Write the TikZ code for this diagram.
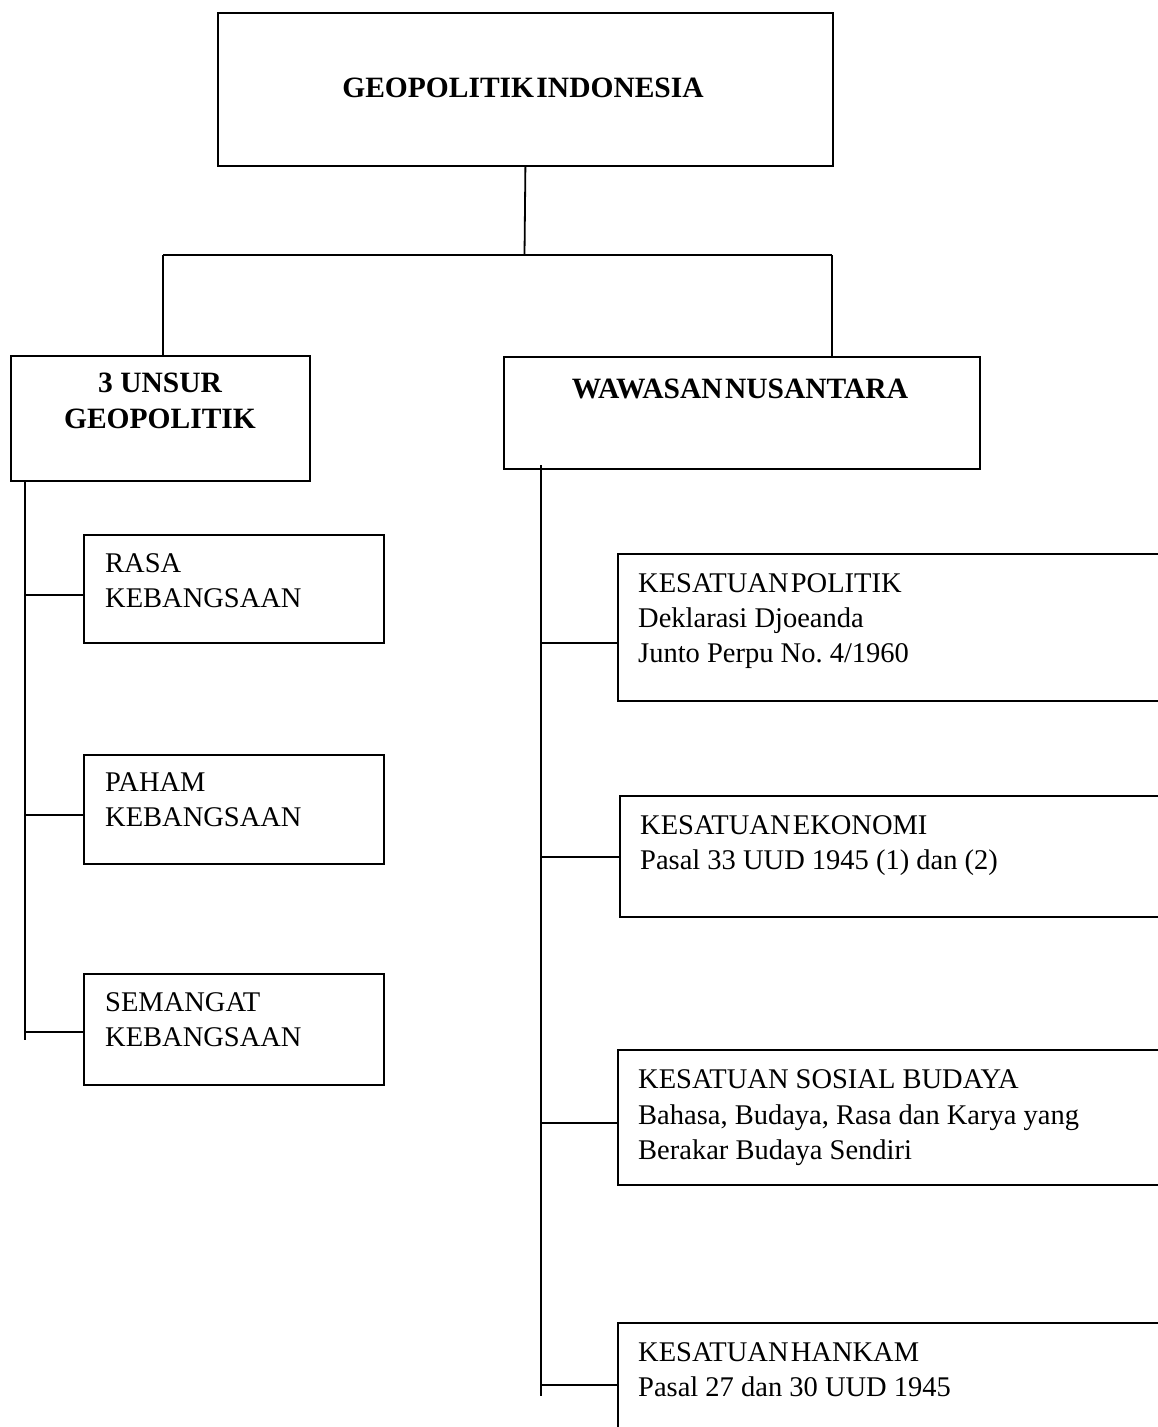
\documentclass[tikz,border=0pt]{standalone}
\usepackage{fontspec}
\setmainfont{Liberation Serif}
\frenchspacing
\newcommand\tightsp{\hspace{0.08em}}
\begin{document}
\begin{tikzpicture}[x=1pt,y=-1pt,
  box/.style={draw=black,line width=1.8pt,rectangle,inner sep=0pt,anchor=north west},
  wire/.style={draw=black,line width=1.8pt},
  txt/.style={inner sep=0pt,anchor=base west,font=\fontsize{28.5}{35}\selectfont},
  btxt/.style={inner sep=0pt,anchor=base,font=\fontsize{29.5}{36}\selectfont\bfseries}]
\useasboundingbox (0,0) rectangle (1158,1427);
\clip (0,0) rectangle (1158,1427);

% root
\node[box,minimum width=615pt,minimum height=153pt] (top) at (217,12) {};
\node[btxt] (topt) at (523,97) {GEOPOLITIK\tightsp INDONESIA};

% second level
\node[box,minimum width=299pt,minimum height=125pt] (unsur) at (10,355) {};
\node[btxt] (unsurt1) at (160,392) {3 UNSUR};
\node[btxt] (unsurt2) at (160,428) {GEOPOLITIK};

\node[box,minimum width=476pt,minimum height=112pt] (wn) at (503,356) {};
\node[btxt] (wnt) at (740,398) {WAWASAN\tightsp NUSANTARA};

% left column
\node[box,minimum width=300pt,minimum height=108pt] (rasa) at (83,534) {};
\node[txt] (rasat1) at (105,572) {RASA};
\node[txt] (rasat2) at (105,607) {KEBANGSAAN};

\node[box,minimum width=300pt,minimum height=109pt] (paham) at (83,754) {};
\node[txt] (pahamt1) at (105,791) {PAHAM};
\node[txt] (pahamt2) at (105,826) {KEBANGSAAN};

\node[box,minimum width=300pt,minimum height=111pt] (semangat) at (83,973) {};
\node[txt] (semt1) at (105,1011) {SEMANGAT};
\node[txt] (semt2) at (105,1046) {KEBANGSAAN};

% right column (boxes run past the right edge)
\node[box,minimum width=560pt,minimum height=147pt] (politik) at (617,553) {};
\node[txt] (polt1) at (638,592) {KESATUAN\tightsp POLITIK};
\node[txt] (polt2) at (638,627) {Deklarasi Djoeanda};
\node[txt] (polt3) at (638,662) {Junto Perpu No. 4/1960};

\node[box,minimum width=560pt,minimum height=121pt] (ekonomi) at (619,795) {};
\node[txt] (ekot1) at (640,834) {KESATUAN\tightsp EKONOMI};
\node[txt] (ekot2) at (640,869) {Pasal 33 UUD 1945 (1) dan (2)};

\node[box,minimum width=560pt,minimum height=135pt] (sosbud) at (617,1049) {};
\node[txt] (sbt1) at (638,1088) {KESATUAN SOSIAL BUDAYA};
\node[txt] (sbt2) at (638,1124) {Bahasa, Budaya, Rasa dan Karya yang};
\node[txt] (sbt3) at (638,1159) {Berakar Budaya Sendiri};

\node[box,minimum width=560pt,minimum height=140pt] (hankam) at (617,1322) {};
\node[txt] (hkt1) at (638,1361) {KESATUAN\tightsp HANKAM};
\node[txt] (hkt2) at (638,1396) {Pasal 27 dan 30 UUD 1945};

% junction points
\coordinate (split) at (524.5,255);
\coordinate (jl) at (163,255);
\coordinate (jr) at (832,255);
\coordinate (ltop) at (25,480);
\coordinate (lend) at (25,1040);
\coordinate (rtop) at (541,465);
\coordinate (rend) at (541,1396);
\coordinate (b1) at (25,595);
\coordinate (b2) at (25,815);
\coordinate (b3) at (25,1032);
\coordinate (c1) at (541,643);
\coordinate (c2) at (541,857);
\coordinate (c3) at (541,1123);
\coordinate (c4) at (541,1385);

% tree connectors
\draw[wire] (top.south) -- (split);
\draw[wire] (jl) -- (jr);
\draw[wire] (jl) -- (jl |- unsur.north);
\draw[wire] (jr) -- (jr |- wn.north);

\draw[wire] (ltop) -- (lend);
\draw[wire] (b1) -- (b1 -| rasa.west);
\draw[wire] (b2) -- (b2 -| paham.west);
\draw[wire] (b3) -- (b3 -| semangat.west);

\draw[wire] (rtop) -- (rend);
\draw[wire] (c1) -- (c1 -| politik.west);
\draw[wire] (c2) -- (c2 -| ekonomi.west);
\draw[wire] (c3) -- (c3 -| sosbud.west);
\draw[wire] (c4) -- (c4 -| hankam.west);
\end{tikzpicture}
\end{document}
